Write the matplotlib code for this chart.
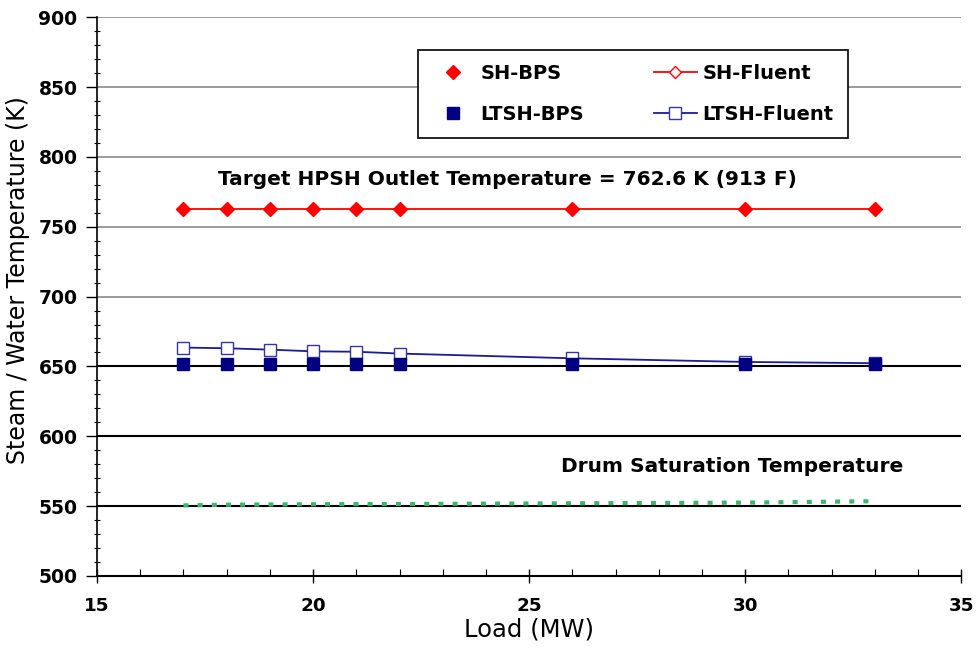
import matplotlib.pyplot as plt
from matplotlib.ticker import MultipleLocator

plt.rcParams['font.family'] = ['DejaVu Sans']
plt.rcParams['font.weight'] = 'bold'

# load points (MW)
load = [17, 18, 19, 20, 21, 22, 26, 30, 33]

# steam / water temperatures (K)
sh_bps = [762.6, 762.6, 762.6, 762.6, 762.6, 762.6, 762.6, 762.6, 762.6]
sh_fluent = [762.6, 762.6, 762.6, 762.6, 762.6, 762.6, 762.6, 762.6, 762.6]
ltsh_bps = [651.5, 651.5, 651.5, 651.5, 651.5, 651.5, 651.5, 651.5, 651.5]
ltsh_fluent = [663.5, 663.0, 662.0, 660.8, 660.5, 659.2, 655.8, 653.2, 652.3]

# drum saturation temperature
drum_load = [17, 18, 20, 22, 26, 30, 33]
drum_temp = [550.5, 551.0, 551.3, 551.5, 552.0, 552.5, 553.5]

fig = plt.figure(figsize=(9.76, 6.62), dpi=100)
ax = fig.add_axes([0.0994, 0.13, 0.8856, 0.844])

ax.plot(drum_load, drum_temp, color='#3cb371', lw=3, linestyle=(0, (1.2, 2.2)), zorder=3)

ax.plot(load, sh_fluent, color='red', lw=1.3, marker='D', ms=6, mfc='white', mec='red',
        label='SH-Fluent', zorder=4)
ax.plot(load, ltsh_fluent, color='#1a1a9a', lw=1.3, marker='s', ms=8, mfc='white', mec='#3535a8',
        label='LTSH-Fluent', zorder=4)
ax.plot(load, sh_bps, linestyle='none', marker='D', ms=7, color='red', label='SH-BPS', zorder=5)
ax.plot(load, ltsh_bps, linestyle='none', marker='s', ms=9, color='#000080', label='LTSH-BPS', zorder=5)

ax.set_xlim(15, 35)
ax.set_ylim(500, 900)
ax.xaxis.set_major_locator(MultipleLocator(5))
ax.xaxis.set_minor_locator(MultipleLocator(1))
ax.yaxis.set_major_locator(MultipleLocator(50))
ax.yaxis.set_minor_locator(MultipleLocator(10))
ax.tick_params(axis='x', which='major', direction='inout', length=10, width=1, labelsize=13.2, pad=10)
ax.tick_params(axis='x', which='minor', direction='in', length=5, width=0.8)
ax.tick_params(axis='y', which='major', direction='out', length=8, width=1, labelsize=13.5, pad=6)
ax.tick_params(axis='y', which='minor', direction='inout', length=5, width=0.8)

for s in ['top', 'right']:
    ax.spines[s].set_visible(False)
ax.spines['left'].set_linewidth(1.2)
ax.spines['bottom'].set_linewidth(1.5)

# horizontal grid, darker below 700
for v in [700, 750, 800, 850, 900]:
    ax.axhline(v, color='#8a8a8a', lw=1.2, zorder=1)
for v in [550, 600, 650]:
    ax.axhline(v, color='black', lw=1.5, zorder=1)

ax.set_xlabel('Load (MW)', fontsize=17.5, fontweight='normal', labelpad=2)
ax.set_ylabel('Steam / Water Temperature (K)', fontsize=17, fontweight='normal')
ax.yaxis.set_label_coords(-0.077, 0.53)

ax.text(24.5, 783.5, 'Target HPSH Outlet Temperature = 762.6 K (913 F)',
        ha='center', va='center', fontsize=14.5, fontweight='bold')
ax.text(29.7, 578.5, 'Drum Saturation Temperature',
        ha='center', va='center', fontsize=14.5, fontweight='bold')

h, l = ax.get_legend_handles_labels()
order = [2, 3, 0, 1]
leg = ax.legend([h[i] for i in order], [l[i] for i in order], ncol=2,
                loc='upper left', bbox_to_anchor=(0.371, 0.941), borderaxespad=0,
                fancybox=False, framealpha=1, edgecolor='black',
                prop={'weight': 'bold', 'size': 14},
                borderpad=0.72, labelspacing=1.1, columnspacing=3.6,
                handlelength=2.2, handletextpad=0.3)
leg.get_frame().set_linewidth(1.2)
leg.set_zorder(6)

fig.savefig('out.png', dpi=100)
